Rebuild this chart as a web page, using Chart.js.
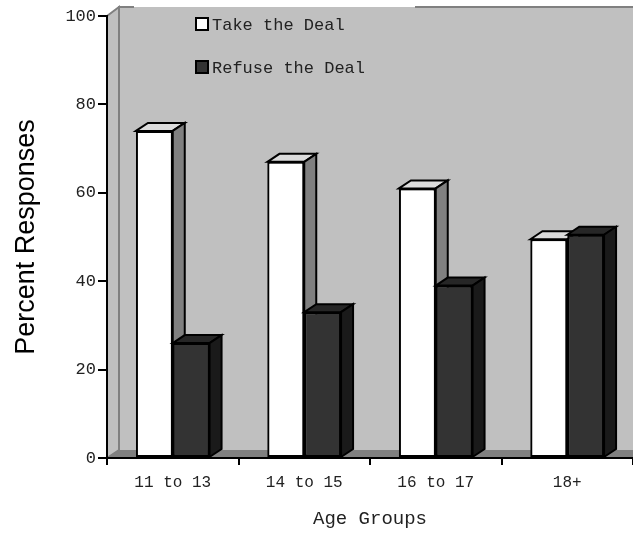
<!DOCTYPE html>
<html>
<head>
<meta charset="utf-8">
<script src="https://cdn.jsdelivr.net/npm/chart.js@4.4.0/dist/chart.umd.min.js"></script>
<style>
  html, body { margin: 0; padding: 0; background: #fff; }
</style>
</head>
<body>
<canvas id="grafica" width="633" height="533"></canvas>
<script>
// datos
const grupos = ["11 to 13", "14 to 15", "16 to 17", "18+"];
const aceptan = [74, 67, 61, 49.5];
const rechazan = [26, 33, 39, 50.5];
const ticksY = [0, 20, 40, 60, 80, 100];
const nombresSeries = ["Take the Deal", "Refuse the Deal"];

// profundidad del efecto 3D
const DX = 12, DY = 8;
// caja de la leyenda (tapa el borde superior de la pared)
const cajaLeyenda = { x: 134, w: 281 };

const poligono = (ctx, puntos, relleno, borde, grosor) => {
  ctx.beginPath();
  puntos.forEach(([px, py], i) => i ? ctx.lineTo(px, py) : ctx.moveTo(px, py));
  ctx.closePath();
  if (relleno) { ctx.fillStyle = relleno; ctx.fill(); }
  if (borde) { ctx.strokeStyle = borde; ctx.lineWidth = grosor || 2; ctx.lineJoin = "miter"; ctx.stroke(); }
};

// paredes y piso del grafico
const paredes = {
  id: "paredes",
  beforeDraw(chart) {
    const ctx = chart.ctx;
    const {left, right, top, bottom} = chart.chartArea;
    const fondoTop = top - DY - 1;
    ctx.save();
    ctx.fillStyle = "#c0c0c0";
    ctx.fillRect(left + DX, fondoTop, right - left - DX, bottom - top + 1);
    poligono(ctx, [[left, top], [left + DX, fondoTop], [left + DX, bottom - DY], [left, bottom]], "#c0c0c0", "#808080", 2);
    poligono(ctx, [[left, bottom], [left + DX, bottom - DY], [right, bottom - DY], [right, bottom]], "#808080", null);
    ctx.strokeStyle = "#808080";
    ctx.lineWidth = 2;
    ctx.beginPath();
    ctx.moveTo(left + DX, bottom - DY);
    ctx.lineTo(left + DX, fondoTop);
    ctx.lineTo(cajaLeyenda.x, fondoTop);
    ctx.moveTo(cajaLeyenda.x + cajaLeyenda.w, fondoTop);
    ctx.lineTo(right, fondoTop);
    ctx.stroke();
    ctx.restore();
  }
};

// redibuja las barras en orden (serie 0 primero) con cara superior y lateral
const barras3d = {
  id: "barras3d",
  afterDatasetsDraw(chart) {
    const ctx = chart.ctx;
    ctx.save();
    chart.data.datasets.forEach((ds, i) => {
      const meta = chart.getDatasetMeta(i);
      meta.data.forEach(bar => {
        bar.draw(ctx, chart.chartArea);
        const {x, y, base, width} = bar.getProps(["x", "y", "base", "width"], true);
        const l = x - width / 2, r = x + width / 2;
        poligono(ctx, [[l, y], [l + DX, y - DY], [r + DX, y - DY], [r, y]], ds.colorArriba, "#000", 2);
        poligono(ctx, [[r, y], [r + DX, y - DY], [r + DX, base - DY], [r, base]], ds.colorLado, "#000", 2);
      });
    });
    ctx.restore();
  }
};

// leyenda dentro del area
const leyenda = {
  id: "leyenda",
  afterDraw(chart) {
    const ctx = chart.ctx;
    ctx.save();
    ctx.font = "17px 'Liberation Mono'";
    ctx.textBaseline = "middle";
    chart.data.datasets.forEach((ds, i) => {
      const yy = 24 + i * 43;
      ctx.fillStyle = ds.backgroundColor;
      ctx.fillRect(196, yy - 6, 12, 12);
      ctx.strokeStyle = "#000";
      ctx.lineWidth = 2;
      ctx.strokeRect(196, yy - 6, 12, 12);
      ctx.fillStyle = "#222";
      ctx.fillText(ds.label, 212, yy + 1);
    });
    ctx.restore();
  }
};

new Chart(document.getElementById("grafica"), {
  type: "bar",
  data: {
    labels: grupos,
    datasets: [
      {
        label: nombresSeries[0],
        data: aceptan,
        backgroundColor: "#ffffff",
        colorArriba: "#dcdcdc",
        colorLado: "#808080",
        borderColor: "#000",
        borderWidth: 2,
        borderSkipped: false
      },
      {
        label: nombresSeries[1],
        data: rechazan,
        backgroundColor: "#333333",
        colorArriba: "#262626",
        colorLado: "#1a1a1a",
        borderColor: "#000",
        borderWidth: 2,
        borderSkipped: false
      }
    ]
  },
  options: {
    responsive: false,
    animation: false,
    layout: { padding: { top: 16, right: 0, left: 0, bottom: 0 } },
    datasets: { bar: { categoryPercentage: 0.56, barPercentage: 1.0 } },
    plugins: { legend: { display: false }, tooltip: { enabled: false } },
    scales: {
      x: {
        grid: { drawOnChartArea: false, color: "#000", lineWidth: 2, tickLength: 7 },
        border: { color: "#000", width: 2 },
        ticks: { color: "#222", font: { family: "Liberation Mono", size: 16 }, padding: 8 },
        title: { display: true, text: "Age Groups", color: "#222", font: { family: "Liberation Mono", size: 19 }, padding: { bottom: 3 } },
        afterFit: (escala) => { escala.height = 75; }
      },
      y: {
        min: 0,
        max: 100,
        afterBuildTicks: (escala) => { escala.ticks = ticksY.map(v => ({ value: v })); },
        grid: { drawOnChartArea: false, color: "#000", lineWidth: 2, tickLength: 9 },
        border: { color: "#000", width: 2 },
        ticks: { color: "#222", font: { family: "Liberation Mono", size: 17 }, padding: 2 },
        title: { display: true, text: "Percent Responses", color: "#000", font: { family: "Liberation Sans", size: 27 }, padding: { top: 10 } },
        afterFit: (escala) => { escala.width = 107; }
      }
    }
  },
  plugins: [paredes, barras3d, leyenda]
});
</script>
</body>
</html>
